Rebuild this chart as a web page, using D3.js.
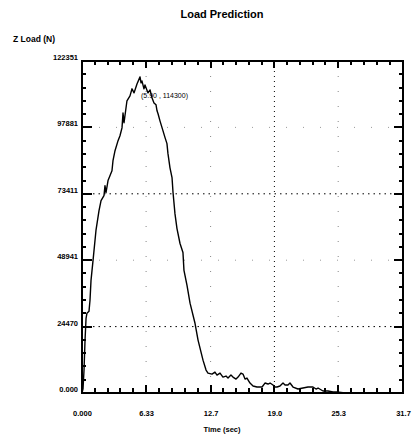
<!DOCTYPE html>
<html>
<head>
<meta charset="utf-8">
<script src="https://cdn.jsdelivr.net/npm/d3@7"></script>
<style>
  html, body { margin: 0; padding: 0; background: #fff; }
  svg { display: block; }
  svg text { font-family: "Liberation Sans", Arial, sans-serif; }
</style>
</head>
<body>
<div id="chart"></div>
<script>
// Load prediction trace
const timeSec = [0, 0.10, 0.20, 0.30, 0.40, 0.49, 0.69, 0.79, 0.89, 1.09, 1.38, 1.68, 1.88, 2.17, 2.27, 2.37, 2.57, 2.96,
  3.06, 3.26, 3.56, 3.75, 3.95, 4.05, 4.15, 4.44, 4.74, 4.94, 5.14, 5.43, 5.73, 5.83, 5.92, 6.12, 6.22, 6.52, 6.72,
  6.91, 7.11, 7.31, 7.41, 7.51, 7.70, 8.00, 8.20, 8.39, 8.49, 8.69, 8.89, 8.99, 9.18, 9.38, 9.68, 9.97, 10.07, 10.37,
  10.67, 11.16, 11.46, 11.95, 12.25, 12.44, 12.84, 13.13, 13.33, 13.63, 13.92, 14.22, 14.42, 14.71, 14.91, 15.21,
  15.41, 15.70, 15.90, 16.10, 16.29, 16.59, 16.89, 17.28, 17.78, 18.07, 18.37, 18.57, 18.86, 19.06, 19.26, 19.55,
  19.85, 20.05, 20.34, 20.54, 20.84, 21.33, 21.82, 22.32, 22.81, 23.11, 23.31, 23.80, 24.29, 24.79, 25.18, 25.97,
  27.5, 29.5, 31.0];
const zLoad = [0, 1500, 8450, 19500, 27500, 29400, 30100, 34200, 41500, 48900, 59900, 67200, 70900, 72700, 76400, 73800,
  78300, 81900, 85600, 89300, 93000, 94800, 97700, 103200, 99600, 107700, 109500, 112100, 110600, 113900, 116500,
  114300, 115000, 112100, 113500, 110600, 111700, 108800, 106900, 106200, 104000, 102900, 100300, 96600, 94100,
  91900, 88200, 83000, 79400, 73900, 66100, 60600, 55100, 51800, 45200, 39700, 33100, 25700, 19500, 12100, 8450,
  7350, 6980, 7720, 6610, 7350, 5880, 6250, 5510, 6610, 5880, 5140, 5880, 7350, 6980, 5140, 5510, 3670, 2570, 2200,
  2200, 3670, 3310, 3670, 2940, 2200, 2200, 2570, 3670, 2940, 2940, 3670, 2200, 1470, 1840, 2200, 2200, 1470, 1840,
  735, 735, 370, 370, 0, 150, 100, 0];

const xTicks = [0, 6.33, 12.7, 19.0, 25.3, 31.7];
const xTickLabels = ['0.000', '6.33', '12.7', '19.0', '25.3', '31.7'];
const yTicks = [0, 24470, 48941, 73411, 97881, 122351];
const yTickLabels = ['0.000', '24470', '48941', '73411', '97881', '122351'];
const peakLabel = '(5.90 , 114300)';
const peakPoint = [5.73, 114300];

const W = 417, H = 436;
const margin = { top: 61, right: 14, bottom: 43, left: 82 };
const innerW = W - margin.left - margin.right;
const innerH = H - margin.top - margin.bottom;

const svg = d3.select('#chart').append('svg').attr('width', W).attr('height', H);
const g = svg.append('g').attr('transform', `translate(${margin.left},${margin.top})`);

const x = d3.scaleLinear().domain([0, 31.7]).range([0, innerW]);
const y = d3.scaleLinear().domain([0, 122351]).range([innerH, 0]);

// minor ticks: four between each pair of majors
function minors(major) {
  const out = [];
  for (let i = 0; i < major.length - 1; i++) {
    const step = (major[i + 1] - major[i]) / 5;
    for (let k = 1; k < 5; k++) out.push(major[i] + step * k);
  }
  return out;
}
const xMinor = minors(xTicks);
const yMinor = minors(yTicks);

// dotted grid - some lines came out heavier on the scan than others
const strongX = [19.0];
const faintX = [6.33, 12.7, 25.3];
const strongY = [24470, 73411];
const faintY = [48941, 97881];

const grid = g.append('g').attr('stroke', '#000').attr('fill', 'none');
grid.selectAll('line.sx').data(strongX).join('line')
  .attr('x1', d => x(d)).attr('x2', d => x(d)).attr('y1', 0).attr('y2', innerH)
  .attr('stroke-width', 1).attr('stroke-dasharray', '1,4');
grid.selectAll('line.fx').data(faintX).join('line')
  .attr('x1', d => x(d)).attr('x2', d => x(d)).attr('y1', 0).attr('y2', innerH)
  .attr('stroke-width', 0.8).attr('stroke-dasharray', '1,14').attr('stroke-opacity', 0.6);
grid.selectAll('line.sy').data(strongY).join('line')
  .attr('x1', 0).attr('x2', innerW).attr('y1', d => y(d)).attr('y2', d => y(d))
  .attr('stroke-width', 1).attr('stroke-dasharray', '1.5,4');
grid.selectAll('line.fy').data(faintY).join('line')
  .attr('x1', 0).attr('x2', innerW).attr('y1', d => y(d)).attr('y2', d => y(d))
  .attr('stroke-width', 0.8).attr('stroke-dasharray', '1,16').attr('stroke-opacity', 0.5);

// curve
const pts = timeSec.map((t, i) => [t, zLoad[i]]);
g.append('path')
  .datum(pts)
  .attr('fill', 'none')
  .attr('stroke', '#000')
  .attr('stroke-width', 1.4)
  .attr('stroke-linejoin', 'round')
  .attr('d', d3.line().x(d => x(d[0])).y(d => y(d[1])));

// frame
g.append('rect')
  .attr('x', 0).attr('y', 0).attr('width', innerW).attr('height', innerH)
  .attr('fill', 'none').attr('stroke', '#000').attr('stroke-width', 2);

// tick marks pointing into the frame, drawn by hand from the scales
const ticks = g.append('g').attr('class', 'ticks')
  .attr('stroke', '#000').attr('stroke-width', 2).attr('shape-rendering', 'crispEdges');
function vTicks(vals, y0, len) {
  ticks.append('g').selectAll('line').data(vals).join('line')
    .attr('x1', d => Math.round(x(d))).attr('x2', d => Math.round(x(d)))
    .attr('y1', y0).attr('y2', y0 + len);
}
function hTicks(vals, x0, len) {
  ticks.append('g').selectAll('line').data(vals).join('line')
    .attr('y1', d => Math.round(y(d))).attr('y2', d => Math.round(y(d)))
    .attr('x1', x0).attr('x2', x0 + len);
}
vTicks(xTicks, innerH, -8);
vTicks(xMinor, innerH, -5);
vTicks(xTicks, 0, 7);
vTicks(xMinor, 0, 4);
hTicks(yTicks, 0, 10);
hTicks(yMinor, 0, 4);
hTicks(yTicks, innerW, -9);
hTicks(yMinor, innerW, -4);

// tick labels through d3 axes (tick lines hidden)
const fmtX = (d) => xTickLabels[xTicks.indexOf(d)];
const fmtY = (d) => yTickLabels[yTicks.indexOf(d)];
function styleAxis(sel) {
  sel.attr('font-family', null).attr('font-size', null);
  sel.select('.domain').remove();
  sel.selectAll('.tick line').remove();
  sel.selectAll('.tick text').attr('fill', '#000')
    .style('font-size', '7.5px').style('font-weight', 'bold');
}
g.append('g').attr('transform', `translate(0,${innerH})`)
  .call(d3.axisBottom(x).tickValues(xTicks).tickFormat(fmtX).tickSize(0).tickPadding(18))
  .call(styleAxis);
const yAx = g.append('g')
  .call(d3.axisLeft(y).tickValues(yTicks).tickFormat(fmtY).tickSize(0).tickPadding(4))
  .call(styleAxis);
yAx.selectAll('text').attr('dy', '-0.2em');

// peak annotation
g.append('text')
  .attr('x', x(peakPoint[0]) + 1)
  .attr('y', y(peakPoint[1]) + 15)
  .style('font-size', '7px')
  .attr('fill', '#000')
  .text(peakLabel);

// titles
svg.append('text')
  .attr('x', 222).attr('y', 18)
  .attr('text-anchor', 'middle')
  .style('font-size', '11px').style('font-weight', 'bold')
  .text('Load Prediction');

svg.append('text')
  .attr('x', 13).attr('y', 42)
  .style('font-size', '8.5px').style('font-weight', 'bold')
  .text('Z Load (N)');

svg.append('text')
  .attr('x', 222).attr('y', 432)
  .attr('text-anchor', 'middle')
  .style('font-size', '7.5px').style('font-weight', 'bold')
  .text('Time (sec)');
</script>
</body>
</html>
